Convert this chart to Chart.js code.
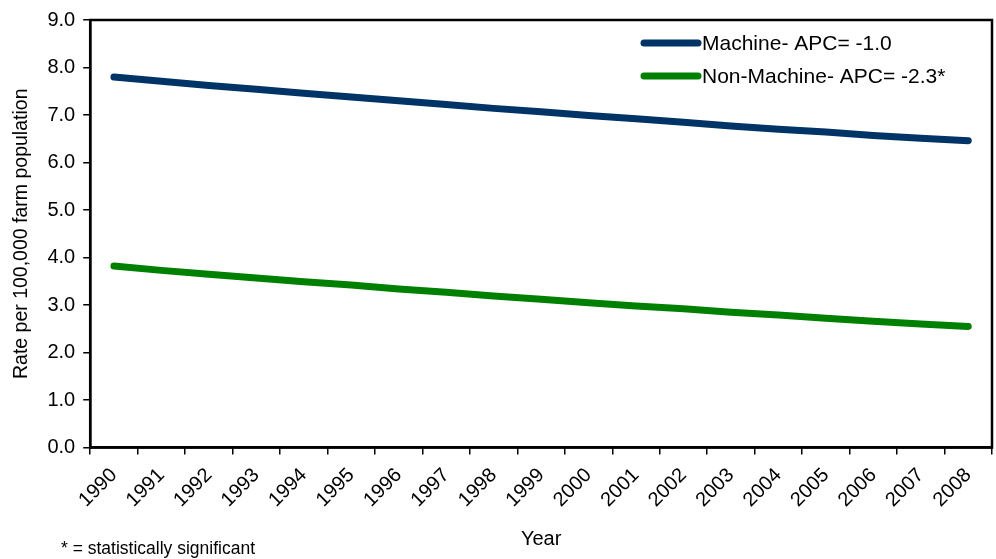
<!DOCTYPE html>
<html>
<head>
<meta charset="utf-8">
<script src="https://cdn.jsdelivr.net/npm/chart.js@4"></script>
<style>
  body { margin: 0; background: #fff; }
  #wrap { width: 996px; height: 559px; }
</style>
</head>
<body>
<div id="wrap"><canvas id="rateChart" width="996" height="559"></canvas></div>
<script>
const years = ['1990', '1991', '1992', '1993', '1994', '1995', '1996', '1997', '1998', '1999',
  '2000', '2001', '2002', '2003', '2004', '2005', '2006', '2007', '2008'];
const machine = [7.80, 7.71, 7.62, 7.54, 7.46, 7.38, 7.30, 7.22, 7.14, 7.07,
  6.99, 6.92, 6.85, 6.77, 6.70, 6.64, 6.57, 6.51, 6.46];
const nonMachine = [3.82, 3.73, 3.65, 3.57, 3.49, 3.42, 3.34, 3.27, 3.19, 3.12,
  3.05, 2.98, 2.92, 2.85, 2.79, 2.72, 2.66, 2.60, 2.55];
const seriesNames = ['Machine- APC= -1.0', 'Non-Machine- APC= -2.3*'];
const footnote = '* = statistically significant';

const FONT = 'Arial, "Liberation Sans", sans-serif';

// legend inside the plot + box + footnote
const extras = {
  id: 'extras',
  afterDraw(chart) {
    const ctx = chart.ctx;
    const a = chart.chartArea;
    ctx.save();
    ctx.strokeStyle = '#000';
    ctx.lineWidth = 2.5;
    ctx.strokeRect(a.left, a.top, a.right - a.left, a.bottom - a.top);

    ctx.font = '21px ' + FONT;
    ctx.textBaseline = 'middle';
    chart.data.datasets.forEach((ds, i) => {
      const y = 43 + i * 33;
      ctx.strokeStyle = ds.borderColor;
      ctx.lineWidth = 7;
      ctx.lineCap = 'round';
      ctx.beginPath();
      ctx.moveTo(644, y);
      ctx.lineTo(698, y);
      ctx.stroke();
      ctx.fillStyle = '#000';
      ctx.fillText(ds.label, 702, y + 1);
    });

    ctx.font = '17.5px ' + FONT;
    ctx.fillText(footnote, 61, 549);
    ctx.restore();
  }
};

new Chart(document.getElementById('rateChart'), {
  type: 'line',
  data: {
    labels: years,
    datasets: [
      {
        label: seriesNames[0],
        data: machine,
        borderColor: '#003366',
        borderWidth: 7,
        borderCapStyle: 'round',
        pointRadius: 0,
        tension: 0,
      },
      {
        label: seriesNames[1],
        data: nonMachine,
        borderColor: '#008000',
        borderWidth: 7,
        borderCapStyle: 'round',
        pointRadius: 0,
        tension: 0,
      },
    ],
  },
  options: {
    responsive: false,
    animation: false,
    layout: { padding: { left: 10, top: 7, right: 4, bottom: 0 } },
    plugins: {
      legend: { display: false },
      tooltip: { enabled: false },
    },
    scales: {
      x: {
        offset: true,
        grid: {
          offset: true,
          drawOnChartArea: false,
          color: '#000',
          tickLength: 7,
          lineWidth: 1.5,
        },
        border: { color: '#000', width: 2.5 },
        ticks: {
          color: '#000',
          font: { size: 20, family: FONT },
          minRotation: 45,
          maxRotation: 45,
          autoSkip: false,
          padding: 9,
        },
        title: {
          display: true,
          text: 'Year',
          color: '#000',
          font: { size: 20, family: FONT },
          padding: { top: 6, bottom: 8 },
        },
      },
      y: {
        min: 0,
        max: 9,
        grid: {
          drawOnChartArea: false,
          color: '#000',
          tickLength: 7,
          lineWidth: 1.5,
        },
        border: { color: '#000', width: 2.5 },
        ticks: {
          stepSize: 1,
          color: '#000',
          font: { size: 20, family: FONT },
          padding: 8,
          callback: (v) => v.toFixed(1),
        },
        title: {
          display: true,
          text: 'Rate per 100,000 farm population',
          color: '#000',
          font: { size: 19.5, family: FONT },
          padding: { top: 0, bottom: 6 },
        },
      },
    },
  },
  plugins: [extras],
});
</script>
</body>
</html>
